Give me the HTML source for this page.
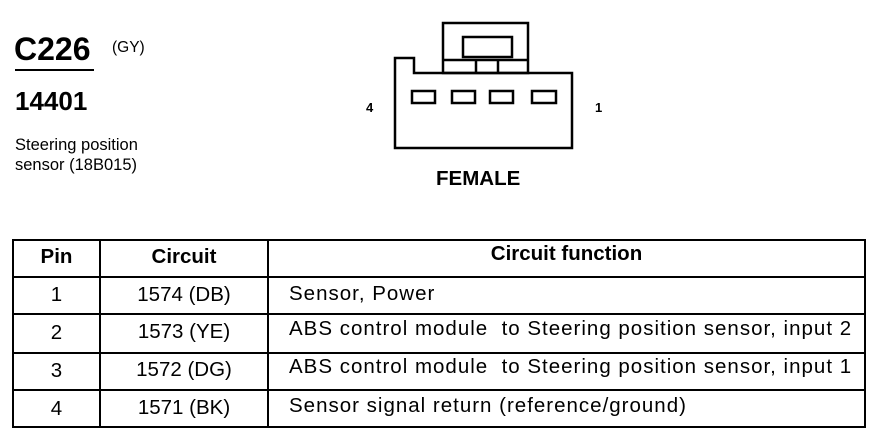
<!DOCTYPE html>
<html><head><style>
body{margin:0;width:874px;height:448px;background:#fff;position:relative;font-family:"Liberation Sans",Arial,sans-serif;color:#000;overflow:hidden}
.a{position:absolute;white-space:nowrap;line-height:22px}
.t{font-size:20.5px}
.f{letter-spacing:1px}
</style></head><body>
<div class="a" style="left:14px;top:33px;font-size:32px;line-height:32px;font-weight:bold">C226</div>
<div class="a" style="left:15px;top:69px;width:79px;height:2px;background:#000"></div>
<div class="a" style="left:112px;top:37px;font-size:15.5px">(GY)</div>
<div class="a" style="left:15px;top:87px;font-size:26px;line-height:28px;font-weight:bold">14401</div>
<div class="a" style="left:15px;top:135px;font-size:16.5px;line-height:20px">Steering position<br>sensor (18B015)</div>
<svg class="a" style="left:0;top:0" width="874" height="448">
<g fill="none" stroke="#000" stroke-width="2.5">
<path d="M395 148 V58 H414 V73 H572 V148 Z"/>
<rect x="443" y="23" width="85" height="50"/>
<rect x="463" y="37" width="49" height="20"/>
<path d="M443 60 H528 M476 60 V73 M498 60 V73"/>
<rect x="412" y="91" width="23" height="12"/>
<rect x="452" y="91" width="23" height="12"/>
<rect x="490" y="91" width="23" height="12"/>
<rect x="532" y="91" width="24" height="12"/>
</g>
<g stroke="#000" stroke-width="2" fill="none">
<rect x="13" y="240" width="852" height="187"/>
<path d="M13 277 H865 M13 314 H865 M13 353 H865 M13 390 H865 M100 240 V427 M268 240 V427"/>
</g>
</svg>
<div class="a" style="left:366px;top:97px;font-size:13px;font-weight:bold">4</div>
<div class="a" style="left:595px;top:97px;font-size:13px;font-weight:bold">1</div>
<div class="a" style="left:436px;top:168px;font-size:20.5px;font-weight:bold">FEMALE</div>
<div class="a t" style="left:13px;top:246px;width:87px;text-align:center;font-weight:bold">Pin</div>
<div class="a t" style="left:100px;top:246px;width:168px;text-align:center;font-weight:bold">Circuit</div>
<div class="a t" style="left:268px;top:243px;width:597px;text-align:center;font-weight:bold">Circuit function</div>
<div class="a t" style="left:13px;top:284px;width:87px;text-align:center">1</div>
<div class="a t" style="left:100px;top:284px;width:168px;text-align:center">1574 (DB)</div>
<div class="a t f" style="left:289px;top:283px;">Sensor, Power</div>
<div class="a t" style="left:13px;top:322px;width:87px;text-align:center">2</div>
<div class="a t" style="left:100px;top:321px;width:168px;text-align:center">1573 (YE)</div>
<div class="a t f" style="left:289px;top:318px;">ABS control module&nbsp; to Steering position sensor, input 2</div>
<div class="a t" style="left:13px;top:360px;width:87px;text-align:center">3</div>
<div class="a t" style="left:100px;top:359px;width:168px;text-align:center">1572 (DG)</div>
<div class="a t f" style="left:289px;top:356px;">ABS control module&nbsp; to Steering position sensor, input 1</div>
<div class="a t" style="left:13px;top:398px;width:87px;text-align:center">4</div>
<div class="a t" style="left:100px;top:397px;width:168px;text-align:center">1571 (BK)</div>
<div class="a t f" style="left:289px;top:395px;">Sensor signal return (reference/ground)</div>
</body></html>
